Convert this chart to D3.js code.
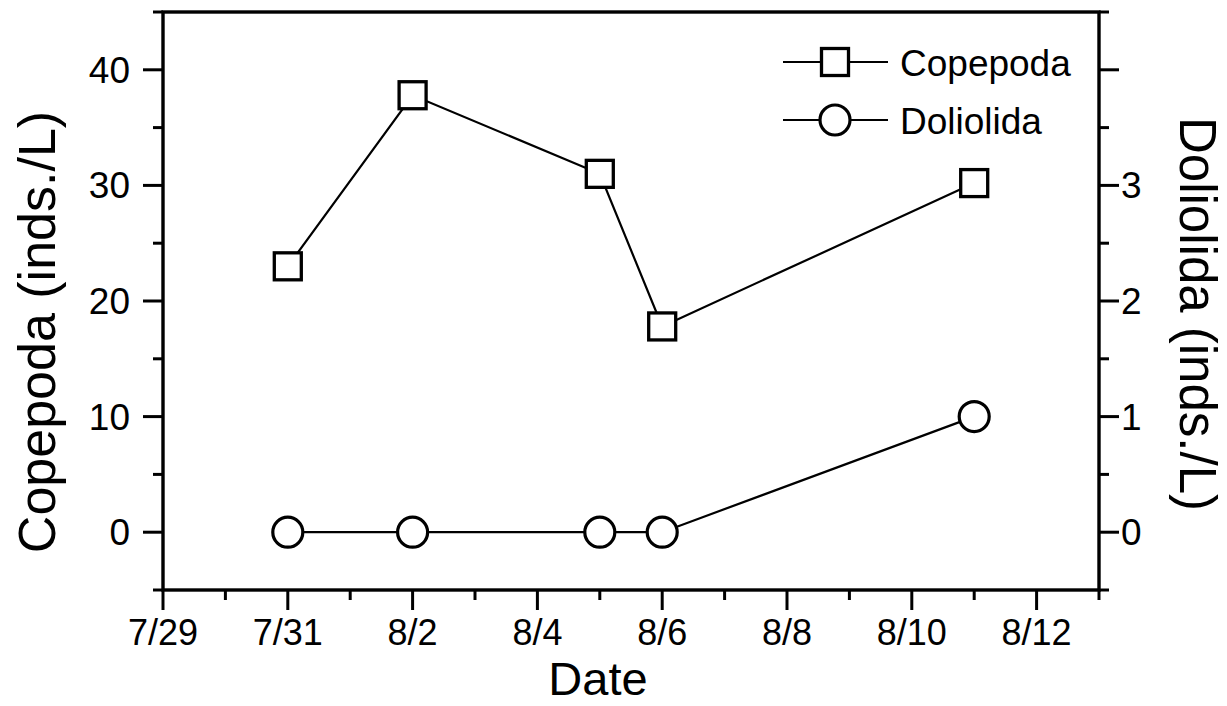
<!DOCTYPE html>
<html>
<head>
<meta charset="utf-8">
<script src="https://cdn.jsdelivr.net/npm/d3@7/dist/d3.min.js"></script>
<style>
  html, body { margin: 0; padding: 0; background: #fff; }
  svg { display: block; font-family: "Liberation Sans", Arial, sans-serif; }
</style>
</head>
<body>
<svg id="chart" width="1227" height="706"></svg>
<script>
// Sampling dates (month/day)
const dates = ["7/31", "8/2", "8/5", "8/6", "8/11"];
// Abundance, individuals per litre
const copepoda = [23.0, 37.8, 31.0, 17.8, 30.2];
const doliolida = [0, 0, 0, 0, 1.0];
// Axis tick labels
const xTickLabels = ["7/29", "7/31", "8/2", "8/4", "8/6", "8/8", "8/10", "8/12"];
const leftTicks = [0, 10, 20, 30, 40];
const rightTicks = [0, 1, 2, 3, 4];
const rightLabelled = [0, 1, 2, 3];

const parseMD = s => { const [m, d] = s.split("/").map(Number); return new Date(2000, m - 1, d); };

const svg = d3.select("#chart");
const pLeft = 163, pRight = 1099, pTop = 12, pBottom = 590;

const x = d3.scaleTime()
  .domain([parseMD("7/29"), parseMD("8/13")])
  .range([pLeft, pRight]);
const yL = d3.scaleLinear().domain([-5, 45]).range([pBottom, pTop]);
const yR = d3.scaleLinear().domain([-0.5, 4.5]).range([pBottom, pTop]);

const axisW = 3.4, tickW = 3;
const major = 20, minor = 10;

// X axis: majors every 2 days, minors on the days between
const dayList = d3.timeDay.range(parseMD("7/29"), d3.timeDay.offset(parseMD("8/13"), 1));
const xMajor = xTickLabels.map(parseMD);
const xMinor = dayList.filter(d => !xMajor.some(m => +m === +d));

const gx = svg.append("g");
gx.selectAll("line.maj").data(xMajor).join("line").attr("class", "maj")
  .attr("x1", d => x(d)).attr("x2", d => x(d))
  .attr("y1", pBottom).attr("y2", pBottom + major)
  .attr("stroke", "#000").attr("stroke-width", tickW);
gx.selectAll("line.min").data(xMinor).join("line").attr("class", "min")
  .attr("x1", d => x(d)).attr("x2", d => x(d))
  .attr("y1", pBottom).attr("y2", pBottom + minor)
  .attr("stroke", "#000").attr("stroke-width", tickW);
gx.selectAll("text").data(xTickLabels).join("text")
  .attr("x", d => x(parseMD(d))).attr("y", 645)
  .attr("text-anchor", "middle").attr("font-size", 36)
  .text(d => d);

// Left axis
const gl = svg.append("g");
const lMinor = d3.range(-5, 46, 10);
gl.selectAll("line.maj").data(leftTicks).join("line").attr("class", "maj")
  .attr("x1", pLeft - major).attr("x2", pLeft)
  .attr("y1", d => yL(d)).attr("y2", d => yL(d))
  .attr("stroke", "#000").attr("stroke-width", tickW);
gl.selectAll("line.min").data(lMinor).join("line").attr("class", "min")
  .attr("x1", pLeft - minor).attr("x2", pLeft)
  .attr("y1", d => yL(d)).attr("y2", d => yL(d))
  .attr("stroke", "#000").attr("stroke-width", tickW);
gl.selectAll("text").data(leftTicks).join("text")
  .attr("x", pLeft - 33).attr("y", d => yL(d)).attr("dy", "0.35em")
  .attr("text-anchor", "end").attr("font-size", 37)
  .text(d => d);

// Right axis
const gr = svg.append("g");
const rMinor = d3.range(-0.5, 4.6, 1);
gr.selectAll("line.maj").data(rightTicks).join("line").attr("class", "maj")
  .attr("x1", pRight).attr("x2", pRight + major)
  .attr("y1", d => yR(d)).attr("y2", d => yR(d))
  .attr("stroke", "#000").attr("stroke-width", tickW);
gr.selectAll("line.min").data(rMinor).join("line").attr("class", "min")
  .attr("x1", pRight).attr("x2", pRight + minor)
  .attr("y1", d => yR(d)).attr("y2", d => yR(d))
  .attr("stroke", "#000").attr("stroke-width", tickW);
gr.selectAll("text").data(rightLabelled).join("text")
  .attr("x", pRight + 22).attr("y", d => yR(d)).attr("dy", "0.35em")
  .attr("text-anchor", "start").attr("font-size", 37)
  .text(d => d);

// Frame
svg.append("rect")
  .attr("x", pLeft).attr("y", pTop)
  .attr("width", pRight - pLeft).attr("height", pBottom - pTop)
  .attr("fill", "none").attr("stroke", "#000").attr("stroke-width", axisW);

// Axis titles
svg.append("text")
  .attr("x", 598).attr("y", 695)
  .attr("text-anchor", "middle").attr("font-size", 47)
  .text("Date");
svg.append("text")
  .attr("transform", "translate(55,332) rotate(-90)")
  .attr("text-anchor", "middle").attr("font-size", 52)
  .text("Copepoda (inds./L)");
svg.append("text")
  .attr("transform", "translate(1180,314) rotate(90)")
  .attr("text-anchor", "middle").attr("font-size", 51)
  .text("Doliolida (inds./L)");

// Series
const cData = dates.map((d, i) => ({ t: parseMD(d), v: copepoda[i] }));
const dData = dates.map((d, i) => ({ t: parseMD(d), v: doliolida[i] }));

const lineL = d3.line().x(d => x(d.t)).y(d => yL(d.v));
const lineR = d3.line().x(d => x(d.t)).y(d => yR(d.v));

svg.append("path").datum(cData).attr("d", lineL)
  .attr("fill", "none").attr("stroke", "#000").attr("stroke-width", 2.2);
svg.append("path").datum(dData).attr("d", lineR)
  .attr("fill", "none").attr("stroke", "#000").attr("stroke-width", 2.2);

const sq = 27;
svg.selectAll("rect.cop").data(cData).join("rect")
  .attr("class", "cop")
  .attr("x", d => x(d.t) - sq / 2).attr("y", d => yL(d.v) - sq / 2)
  .attr("width", sq).attr("height", sq)
  .attr("fill", "#fff").attr("stroke", "#000").attr("stroke-width", 3.3);
svg.selectAll("circle.dol").data(dData).join("circle")
  .attr("class", "dol")
  .attr("cx", d => x(d.t)).attr("cy", d => yR(d.v)).attr("r", 15)
  .attr("fill", "#fff").attr("stroke", "#000").attr("stroke-width", 3.2);

// Legend
const legend = svg.append("g");
const legItems = [
  { name: "Copepoda", shape: "square", y: 62 },
  { name: "Doliolida", shape: "circle", y: 120 }
];
legItems.forEach(it => {
  legend.append("line")
    .attr("x1", 783).attr("x2", 888).attr("y1", it.y).attr("y2", it.y)
    .attr("stroke", "#000").attr("stroke-width", 2.2);
  if (it.shape === "square") {
    legend.append("rect")
      .attr("x", 835 - sq / 2).attr("y", it.y - sq / 2)
      .attr("width", sq).attr("height", sq)
      .attr("fill", "#fff").attr("stroke", "#000").attr("stroke-width", 3.3);
  } else {
    legend.append("circle")
      .attr("cx", 835).attr("cy", it.y).attr("r", 15)
      .attr("fill", "#fff").attr("stroke", "#000").attr("stroke-width", 3.2);
  }
  legend.append("text")
    .attr("x", 900).attr("y", it.y + 14)
    .attr("font-size", 37)
    .text(it.name);
});
</script>
</body>
</html>
